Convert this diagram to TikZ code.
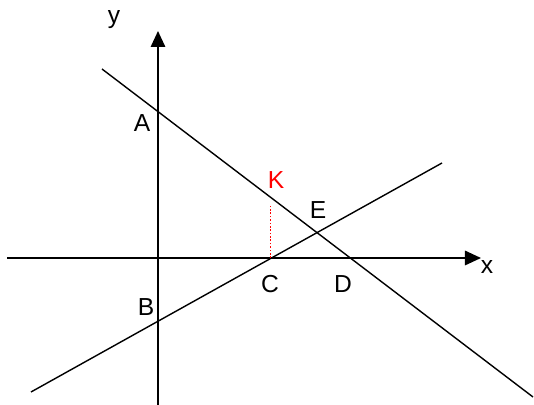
\documentclass[tikz,border=0pt]{standalone}
\usepackage{fontspec}
\setmainfont{Liberation Sans}
\usetikzlibrary{arrows.meta}

\begin{document}
\begin{tikzpicture}[x=0.025cm,y=-0.025cm,line width=1pt,
  lbl/.style={font=\fontsize{17.5}{17.5}\selectfont,inner sep=0pt}]
\useasboundingbox (0,0) rectangle (534,405);
\coordinate (xl) at (7,258);
\coordinate (xr) at (481,258);
\coordinate (yb) at (158,405);
\coordinate (yt) at (158,31);
\coordinate (p1) at (102,69);
\coordinate (p2) at (533,397);
\coordinate (q1) at (31,392);
\coordinate (q2) at (442,163);
\coordinate (C) at (270.5,258);
\coordinate (K) at (270.5,205);
\draw[line width=1.3pt,-{Triangle[length=4mm,width=3.6mm]}](xl)--(xr);
\draw[line width=1.3pt,-{Triangle[length=4mm,width=3.6mm]}](yb)--(yt);
\draw(p1)--(p2);
\draw(q1)--(q2);
\draw[red,dash pattern=on 1.2pt off 1.2pt](C)--(K);
\node[lbl] (ny) at (114,20) {y};
\node[lbl] (nx) at (487,267) {x};
\node[lbl] (nA) at (142,123) {A};
\node[lbl] (nB) at (146,307) {B};
\node[lbl] (nC) at (270,284) {C};
\node[lbl] (nD) at (343,284) {D};
\node[lbl] (nE) at (318,210) {E};
\node[lbl,red] (nK) at (276,180) {K};
\end{tikzpicture}
\end{document}
